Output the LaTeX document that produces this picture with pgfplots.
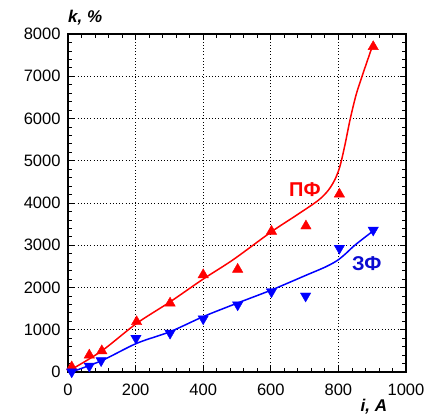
\documentclass[border=0pt]{standalone}
\usepackage{fontspec}
\setmainfont{Liberation Sans}
\usepackage{pgfplots}
\pgfplotsset{compat=1.18}
\definecolor{myred}{RGB}{255,0,0}
\definecolor{myblue}{RGB}{0,0,255}
\definecolor{lblblue}{RGB}{10,10,210}
\begin{document}
\begin{tikzpicture}
\useasboundingbox (-68pt,-44pt) rectangle (372pt,372pt);
\begin{axis}[at={(0pt,0pt)}, anchor=south west, scale only axis,
  width=338pt, height=338pt,
  xmin=0, xmax=1000, ymin=0, ymax=8000,
  xtick={0,200,...,1000}, ytick={0,1000,...,8000},
  minor x tick num=4, minor y tick num=4,
  tick align=inside,
  scaled ticks=false,
  grid=major,
  major grid style={black, line width=0.8pt, dash pattern=on 0.8pt off 2.4pt},
  axis line style={line width=1.6pt},
  every tick/.style={black, line width=0.8pt},
  major tick length=6pt, minor tick length=4pt,
  /pgf/number format/assume math mode=true,
  /pgf/number format/1000 sep={},
  ticklabel style={font=\fontsize{16.5}{19}\selectfont},
  yticklabel style={xshift=-4pt},
  xticklabel style={yshift=-8pt},
  clip=false,
]
% fitted curves
\addplot[myred, line width=1.5pt, smooth] coordinates {
 (10,60) (100,500) (203,1150) (302,1660) (400,2200) (489,2660) (602,3320)
 (677,3716) (740,4060) (770,4300) (790,4560) (805,4880) (820,5400)
 (835,5990) (852,6550) (870,7000) (900,7700)};
\addplot[myblue, line width=1.5pt, smooth] coordinates {
 (10,0) (100,270) (203,678) (302,954) (400,1310) (499,1625) (602,1941)
 (706,2296) (760,2480) (795,2630) (820,2790) (850,3010) (903,3340)};
% data points
\addplot[only marks, mark=triangle*, mark size=6pt, myred] coordinates {
 (11,120) (63,400) (100,500) (203,1190) (302,1630) (400,2300) (502,2430)
 (602,3330) (704,3455) (803,4210) (903,7700)};
\addplot[only marks, mark=triangle*, mark size=6pt, mark options={rotate=180}, myblue] coordinates {
 (11,5) (63,140) (98,270) (201,800) (302,920) (400,1260) (502,1590)
 (602,1900) (703,1800) (803,2930) (903,3360)};
\node[myred, font=\bfseries\fontsize{20}{24}\selectfont] at (axis cs:701,4320) {ПФ};
\node[lblblue, font=\bfseries\fontsize{20}{24}\selectfont] at (axis cs:884,2556) {ЗФ};
\node[anchor=south west, inner sep=0pt, font=\bfseries\itshape\fontsize{17}{20}\selectfont] at (rel axis cs:0,1) [yshift=9pt] {k, \%};
\node[anchor=north, inner sep=0pt, font=\bfseries\itshape\fontsize{17}{20}\selectfont] at (axis cs:905,0) [yshift=-27pt] {i, A};
\end{axis}
\end{tikzpicture}
\end{document}
